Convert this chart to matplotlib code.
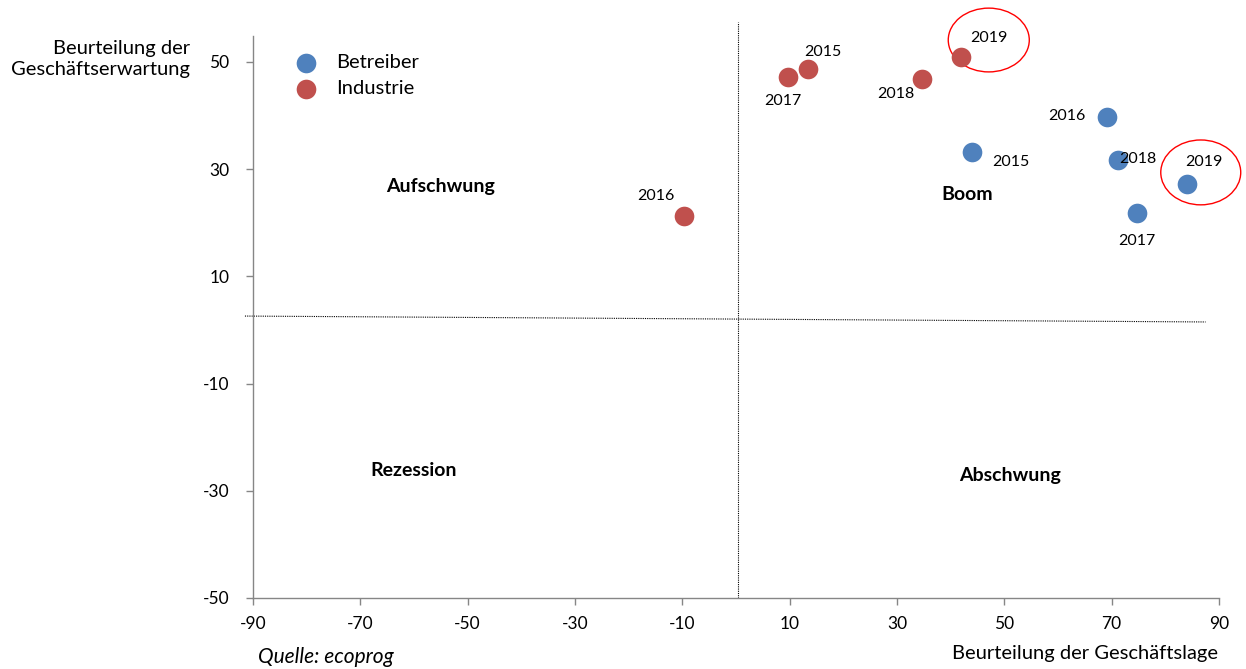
import matplotlib
matplotlib.use("Agg")
from matplotlib import pyplot as plt
from matplotlib.patches import Ellipse

plt.rcParams['font.family'] = ['Lato', 'DejaVu Sans']
plt.rcParams['axes.unicode_minus'] = False

years = ['2015', '2016', '2017', '2018', '2019']
betreiber_x = [44.0, 69.1, 74.7, 71.2, 84.0]
betreiber_y = [33.2, 39.7, 21.8, 31.7, 27.2]
industrie_x = [13.4, -9.7, 9.7, 34.7, 41.9]
industrie_y = [48.7, 21.3, 47.2, 46.8, 50.9]

# label offsets in points (dx, dy) per year
betreiber_off = [(28, -7), (-29, 1), (0, -20), (14, 1), (12, 16)]
industrie_off = [(11, 12), (-20, 14), (-4, -17), (-19, -11), (20, 14)]

quadrants = [('Aufschwung', -55, 26.7), ('Boom', 43, 25.2),
             ('Rezession', -60, -26.3), ('Abschwung', 51, -27.2)]

blue = '#4F81BD'
red = '#C0504D'
grey = '#868686'

fig = plt.figure(figsize=(12.46, 6.69), dpi=100)
ax = fig.add_axes([253 / 1246, 1 - 598 / 669, (1219 - 253) / 1246, (598 - 36) / 669])
ax.set_xlim(-90, 90)
ax.set_ylim(-50, 54.85)

ax.scatter(betreiber_x, betreiber_y, s=200, color=blue, label='Betreiber', zorder=3, linewidths=0)
ax.scatter(industrie_x, industrie_y, s=200, color=red, label='Industrie', zorder=3, linewidths=0)

for yr, x, y, off in zip(years, betreiber_x, betreiber_y, betreiber_off):
    ax.annotate(yr, (x, y), xytext=off, textcoords='offset points',
                ha='center', va='center', fontsize=11.5, zorder=4)
for yr, x, y, off in zip(years, industrie_x, industrie_y, industrie_off):
    ax.annotate(yr, (x, y), xytext=off, textcoords='offset points',
                ha='center', va='center', fontsize=11.5, zorder=4)

# quadrant divider lines
ax.plot([-91.5, 87.5], [2.6, 1.5], color='black', linestyle=(0, (1, 1)), linewidth=0.8, clip_on=False)
ax.plot([0.4, 0.4], [-50, 57.5], color='black', linestyle=(0, (1, 1)), linewidth=0.8, clip_on=False)

for name, x, y in quadrants:
    ax.text(x, y, name, ha='center', va='center', fontsize=14, fontweight='bold')

# highlight circles for 2019
ax.add_patch(Ellipse((47.1, 54.1), 15.1, 11.9, fill=False, edgecolor='red', linewidth=1, clip_on=False))
ax.add_patch(Ellipse((86.6, 29.4), 14.9, 12.1, fill=False, edgecolor='red', linewidth=1, clip_on=False))

ax.set_xticks(range(-90, 91, 20))
ax.set_yticks(range(-50, 51, 20))
for s in ['top', 'right']:
    ax.spines[s].set_visible(False)
for s in ['left', 'bottom']:
    ax.spines[s].set_color(grey)
    ax.spines[s].set_linewidth(1)
ax.tick_params(colors=grey, labelcolor='black', labelsize=12.5, length=5, width=1)
ax.tick_params(axis='x', pad=8)
ax.tick_params(axis='y', pad=12)

ax.legend(loc='upper left', bbox_to_anchor=(0.015, 1.0), frameon=False, fontsize=14.5,
          handletextpad=0.5, labelspacing=0.45, markerscale=1.0)

fig.text(190 / 1246, 1 - 59 / 669, 'Beurteilung der\nGeschäftserwartung', ha='right', va='center',
         fontsize=14.5, linespacing=1.35)
fig.text(1085 / 1246, 1 - 653 / 669, 'Beurteilung der Geschäftslage', ha='center', va='center', fontsize=14.5)
fig.text(258 / 1246, 1 - 657 / 669, 'Quelle: ecoprog', ha='left', va='center', fontsize=15, style='italic')

fig.savefig('out.png', dpi=100)
